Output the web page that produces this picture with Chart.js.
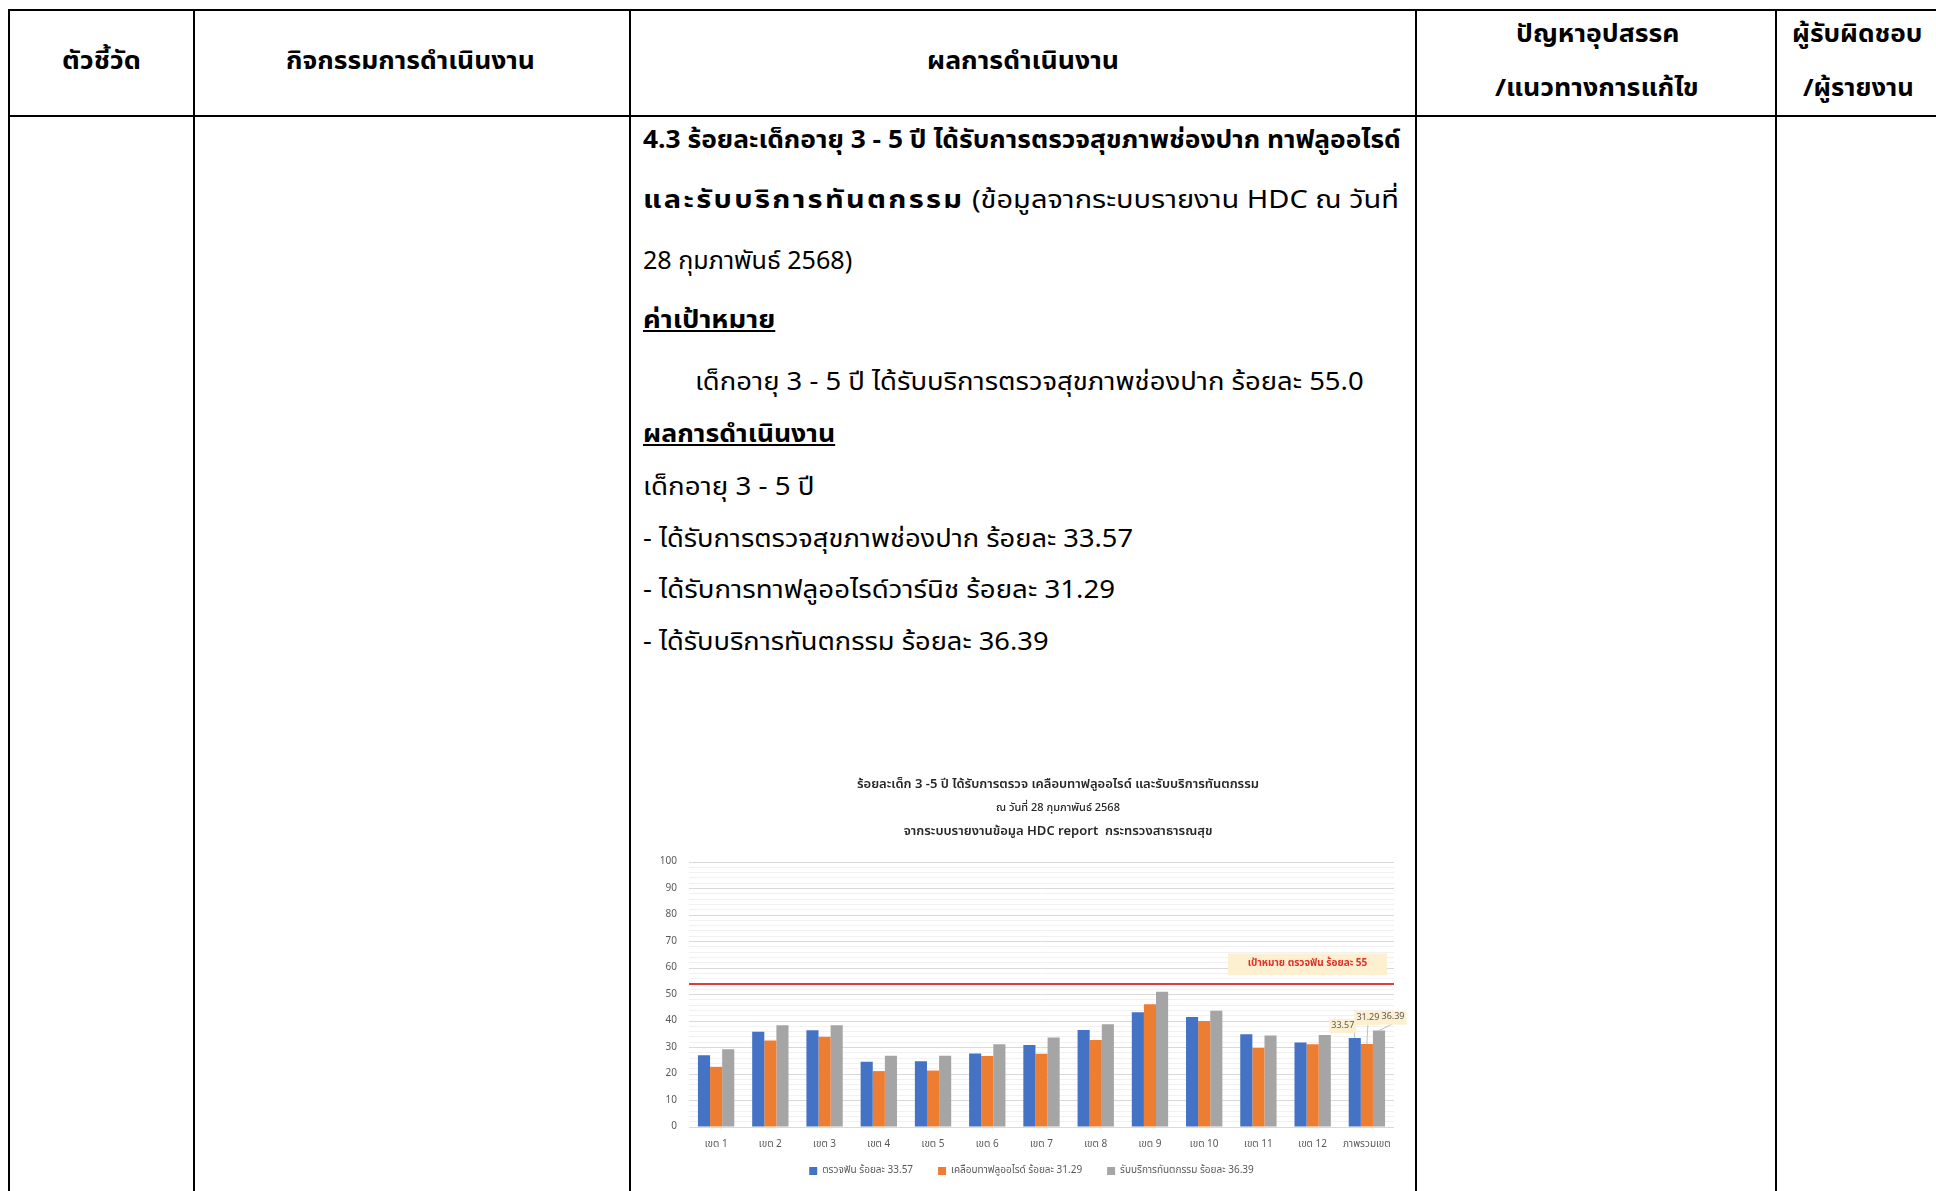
<!DOCTYPE html>
<html lang="th">
<head>
<meta charset="utf-8">
<title>ร้อยละเด็ก 3-5 ปี ได้รับการตรวจ เคลือบทาฟลูออไรด์ และรับบริการทันตกรรม</title>
<script src="https://cdn.jsdelivr.net/npm/chart.js"></script>
<style>
  html, body { margin: 0; padding: 0; background: #fff; }
  body {
    width: 1936px; height: 1191px; overflow: hidden; position: relative;
    font-family: "Noto Sans Thai", "Noto Sans", "Noto Sans CJK SC", sans-serif; color: #000;
  }
  .ln { position: absolute; background: #000; }
  .t { position: absolute; white-space: nowrap; font-size: 25px; line-height: 1.5; transform-origin: left center; }
  .h { font-size: 24px; }
  .b { font-weight: bold; }
  .u { text-decoration: underline; }
  #chartBox { position: absolute; left: 654px; top: 765px; width: 808px; height: 426px; }
</style>
</head>
<body>
<!-- table lines -->
<div class="ln" style="left:8px;top:9px;width:1930px;height:2px"></div>
<div class="ln" style="left:8px;top:115px;width:1930px;height:2px"></div>
<div class="ln" style="left:8px;top:9px;width:2px;height:1182px"></div>
<div class="ln" style="left:193px;top:9px;width:2px;height:1182px"></div>
<div class="ln" style="left:629px;top:9px;width:2px;height:1182px"></div>
<div class="ln" style="left:1415px;top:9px;width:2px;height:1182px"></div>
<div class="ln" style="left:1775px;top:9px;width:2px;height:1182px"></div>

<!-- header -->
<div class="t h b" data-x="62" data-y="62" data-w="79">ตัวชี้วัด</div>
<div class="t h b" data-x="286" data-y="62" data-w="249">กิจกรรมการดำเนินงาน</div>
<div class="t h b" data-x="927" data-y="62" data-w="192">ผลการดำเนินงาน</div>
<div class="t h b" data-x="1516" data-y="35" data-w="163">ปัญหาอุปสรรค</div>
<div class="t h b" data-x="1495" data-y="89" data-w="204">/แนวทางการแก้ไข</div>
<div class="t h b" data-x="1792" data-y="35" data-w="130">ผู้รับผิดชอบ</div>
<div class="t h b" data-x="1803" data-y="89" data-w="111">/ผู้รายงาน</div>

<!-- body text -->
<div class="t b" data-x="643" data-y="141" data-w="758">4.3 ร้อยละเด็กอายุ 3 - 5 ปี ได้รับการตรวจสุขภาพช่องปาก ทาฟลูออไรด์</div>
<div class="t" data-x="643" data-y="201" data-w="756"><b style="letter-spacing:2px">และรับบริการทันตกรรม</b> (ข้อมูลจากระบบรายงาน HDC ณ วันที่</div>
<div class="t" data-x="643" data-y="262" data-w="209">28 กุมภาพันธ์ 2568)</div>
<div class="t b u" data-x="643" data-y="321" data-w="132">ค่าเป้าหมาย</div>
<div class="t" data-x="695" data-y="383" data-w="669">เด็กอายุ 3 - 5 ปี ได้รับบริการตรวจสุขภาพช่องปาก ร้อยละ 55.0</div>
<div class="t b u" data-x="643" data-y="435" data-w="192">ผลการดำเนินงาน</div>
<div class="t" data-x="643" data-y="488" data-w="172">เด็กอายุ 3 - 5 ปี</div>
<div class="t" data-x="643" data-y="540" data-w="490">- ได้รับการตรวจสุขภาพช่องปาก ร้อยละ 33.57</div>
<div class="t" data-x="643" data-y="591" data-w="472">- ได้รับการทาฟลูออไรด์วาร์นิช ร้อยละ 31.29</div>
<div class="t" data-x="643" data-y="643" data-w="405">- ได้รับบริการทันตกรรม ร้อยละ 36.39</div>

<div id="chartBox"><canvas id="oralChart"></canvas></div>

<script>
// ---- chart data ----
const categories = ['เขต 1', 'เขต 2', 'เขต 3', 'เขต 4', 'เขต 5', 'เขต 6', 'เขต 7',
  'เขต 8', 'เขต 9', 'เขต 10', 'เขต 11', 'เขต 12', 'ภาพรวมเขต'];
const checkup  = [27.1, 35.9, 36.5, 24.6, 24.8, 27.7, 30.9, 36.6, 43.3, 41.5, 35.0, 31.9, 33.57];
const fluoride = [22.7, 32.6, 34.1, 21.1, 21.3, 26.8, 27.6, 32.8, 46.3, 40.0, 29.8, 31.2, 31.29];
const service  = [29.3, 38.4, 38.4, 26.9, 26.9, 31.2, 33.8, 38.8, 51.0, 43.9, 34.5, 34.7, 36.39];
const seriesNames = ['ตรวจฟัน ร้อยละ 33.57', 'เคลือบทาฟลูออไรด์ ร้อยละ 31.29', 'รับบริการทันตกรรม ร้อยละ 36.39'];
const seriesColors = ['#4472c4', '#ed7d31', '#a5a5a5'];
const targetValue = 54;   // where the red line sits in the picture
const targetText = 'เป้าหมาย ตรวจฟัน ร้อยละ 55';
const totalLabels = ['33.57', '31.29', '36.39'];
const titleLines = [
  'ร้อยละเด็ก 3 -5 ปี ได้รับการตรวจ เคลือบทาฟลูออไรด์ และรับบริการทันตกรรม',
  'ณ วันที่ 28 กุมภาพันธ์ 2568',
  'จากระบบรายงานข้อมูล HDC report  กระทรวงสาธารณสุข'
];

// squeeze the document lines to the widths they have on the page
function fitText() {
  document.querySelectorAll('.t').forEach(el => {
    el.style.transform = 'none';
    el.style.left = el.dataset.x + 'px';
    el.style.top = (el.dataset.y - el.offsetHeight / 2) + 'px';
    const sx = el.dataset.w / el.offsetWidth;
    el.style.transform = 'scaleX(' + sx + ')';
  });
}
fitText();
if (document.fonts) document.fonts.ready.then(fitText);

const thaiFont = '"Noto Sans Thai", "Noto Sans", sans-serif';

// three title lines, each in its own size
const titleBlock = {
  id: 'titleBlock',
  afterDraw(chart) {
    const { ctx } = chart;
    const cx = chart.width / 2;
    const rows = [['600 13px', 20], ['500 11px', 44], ['600 13px', 67]];
    ctx.save();
    ctx.fillStyle = '#262626';
    ctx.textAlign = 'center';
    ctx.textBaseline = 'middle';
    rows.forEach((r, i) => {
      ctx.font = r[0] + ' ' + thaiFont;
      ctx.fillText(titleLines[i], cx, r[1]);
    });
    ctx.restore();
  }
};

// red target line, its note and the labels on the total group
const extras = {
  id: 'extras',
  afterLayout(chart) {
    // the legend sits a little left of the plot centre in the picture
    chart.legend.left -= 10;
    chart.legend.right -= 10;
  },
  afterDatasetsDraw(chart) {
    const { ctx, chartArea, scales: { y } } = chart;
    ctx.save();
    const ty = y.getPixelForValue(targetValue);
    ctx.strokeStyle = '#e03a3e';
    ctx.lineWidth = 2;
    ctx.beginPath();
    ctx.moveTo(chartArea.left, ty);
    ctx.lineTo(chartArea.right, ty);
    ctx.stroke();

    const bTop = y.getPixelForValue(65.5), bBot = y.getPixelForValue(57.3);
    const bRight = chartArea.right - 7, bLeft = chartArea.right - 166;
    ctx.fillStyle = '#fdf0d0';
    ctx.fillRect(bLeft, bTop, bRight - bLeft, bBot - bTop);
    ctx.fillStyle = '#e0302a';
    ctx.font = 'bold 10px ' + thaiFont;
    ctx.textAlign = 'center';
    ctx.textBaseline = 'middle';
    ctx.fillText(targetText, (bLeft + bRight) / 2, (bTop + bBot) / 2);

    const offs = [[-12, -12], [1, -26], [14, -13]];
    ctx.font = '9px ' + thaiFont;
    chart.data.datasets.forEach((ds, i) => {
      const bar = chart.getDatasetMeta(i).data[categories.length - 1];
      const lx = bar.x + offs[i][0], ly = bar.y + offs[i][1];
      const w = ctx.measureText(totalLabels[i]).width + 4;
      ctx.strokeStyle = '#bfbfbf';
      ctx.lineWidth = 1;
      ctx.beginPath();
      ctx.moveTo(lx + (i === 0 ? w / 2 - 2 : 0), ly + 6);
      ctx.lineTo(bar.x, bar.y);
      ctx.stroke();
      ctx.fillStyle = '#fdf0d0';
      ctx.fillRect(lx - w / 2, ly - 7, w, 14);
      ctx.fillStyle = '#595959';
      ctx.fillText(totalLabels[i], lx, ly);
    });
    ctx.restore();
  }
};

new Chart(document.getElementById('oralChart'), {
  type: 'bar',
  data: {
    labels: categories,
    datasets: [
      { label: seriesNames[0], data: checkup, backgroundColor: seriesColors[0] },
      { label: seriesNames[1], data: fluoride, backgroundColor: seriesColors[1] },
      { label: seriesNames[2], data: service, backgroundColor: seriesColors[2] }
    ]
  },
  options: {
    responsive: true,
    maintainAspectRatio: false,
    animation: false,
    layout: { padding: { top: 97, bottom: 5 } },
    datasets: { bar: { categoryPercentage: 0.67, barPercentage: 1.0 } },
    plugins: {
      title: { display: false },
      legend: {
        position: 'bottom', fullSize: false,
        labels: {
          boxWidth: 8, boxHeight: 8, padding: 10, color: '#595959', font: { family: thaiFont, size: 10 },
          // wider gaps between the three entries, as in the picture
          generateLabels(chart) {
            const items = Chart.defaults.plugins.legend.labels.generateLabels(chart);
            items.forEach((it, i) => { if (i < items.length - 1) it.text += '\u2002\u2002\u2002'; });
            return items;
          }
        }
      },
      tooltip: { enabled: false }
    },
    scales: {
      x: {
        grid: { display: false },
        border: { display: false },
        ticks: { color: '#595959', font: { family: thaiFont, size: 10 }, padding: 4, maxRotation: 0 },
        afterFit(s) { s.height = 29; }
      },
      y: {
        min: 0, max: 100,
        border: { display: false },
        grid: {
          drawTicks: false,
          color: c => (c.tick && c.tick.value % 10 === 0) ? '#d9d9d9' : '#f1f1f1'
        },
        ticks: {
          stepSize: 2, autoSkip: false, padding: 12, color: '#595959',
          font: { family: thaiFont, size: 10 },
          callback: v => (v % 10 === 0 ? v : '')
        },
        afterFit(s) { s.width = 35; }
      },
      yRight: {
        position: 'right', display: true,
        grid: { display: false }, border: { display: false }, ticks: { display: false },
        afterFit(s) { s.width = 68; }
      }
    }
  },
  plugins: [titleBlock, extras]
});
</script>
</body>
</html>
